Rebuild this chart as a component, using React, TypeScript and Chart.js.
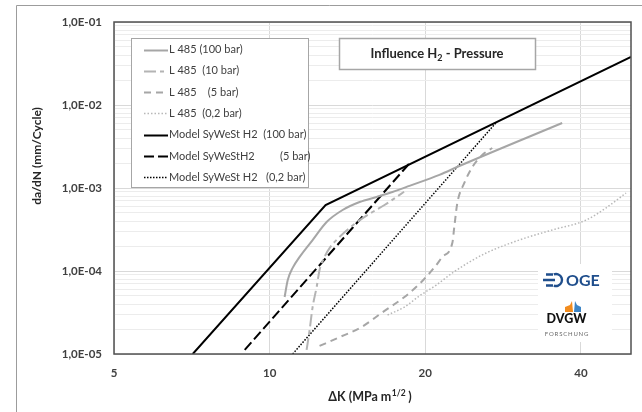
import React, { useEffect, useRef } from 'react';
import { Chart, registerables } from 'chart.js';

Chart.register(...registerables);

// ---- axis ticks ----
const xTicks = [5, 10, 20, 40];
const yMajorTicks = [1e-5, 1e-4, 1e-3, 1e-2, 1e-1];
const xRange = [5, 50];
const yRange = [1e-5, 1e-1];

// ---- data: L 485 measurements ----
const l485_100_dK = [10.69, 10.84, 11.08, 11.43, 12.11, 12.89, 13.84, 14.93, 16.1, 17.28, 18.64, 21.3, 23.28, 36.8];
const l485_100_rate = [4.86e-5, 7.8e-5, 1.09e-4, 1.48e-4, 2.36e-4, 3.89e-4, 5.43e-4, 6.78e-4, 7.8e-4, 8.95e-4, 1.06e-3, 1.44e-3, 1.84e-3, 6.07e-3];

const l485_10_dK = [11.79, 11.95, 12.11, 12.33, 12.49, 12.77, 13.06, 13.65, 14.59, 15.81, 16.68, 18.2];
const l485_10_rate = [1.12e-5, 1.95e-5, 3.68e-5, 6.41e-5, 1.03e-4, 1.48e-4, 1.89e-4, 2.57e-4, 3.68e-4, 5.14e-4, 6.24e-4, 9.0e-4];

const l485_5_dK = [12.49, 13.54, 15.05, 16.46, 18.23, 19.66, 21.01, 21.58, 22.56, 22.76, 23.07, 23.8, 24.67, 25.78, 26.95];
const l485_5_rate = [1.25e-5, 1.56e-5, 2.11e-5, 3.12e-5, 4.86e-5, 7.37e-5, 1.18e-4, 1.48e-4, 2.17e-4, 3.39e-4, 6.59e-4, 1.15e-3, 1.79e-3, 2.5e-3, 3.03e-3];

const l485_02_dK = [16.91, 18.23, 19.48, 21.01, 22.56, 24.34, 26.24, 30.39, 35.2, 40.94, 44.7, 48.9];
const l485_02_rate = [2.95e-5, 3.68e-5, 5.0e-5, 6.78e-5, 9.46e-5, 1.28e-4, 1.65e-4, 2.36e-4, 3.12e-4, 4.11e-4, 5.74e-4, 8.7e-4];

// ---- data: Model SyWeSt H2 ----
const model_100_dK = [7.1, 12.83, 50];
const model_100_rate = [1e-5, 6.24e-4, 3.79e-2];

const model_5_dK = [8.95, 18.6];
const model_5_rate = [1.12e-5, 1.95e-3];

const model_02_dK = [11.08, 27.4];
const model_02_rate = [1e-5, 6.1e-3];

// ---- labels ----
const seriesLabels = [
  'L 485 (100 bar)',
  'L 485  (10 bar)',
  'L 485    (5 bar)',
  'L 485  (0,2 bar)',
  'Model SyWeSt H2  (100 bar)',
  'Model SyWeStH2         (5 bar)',
  'Model SyWeSt H2   (0,2 bar)',
];
const chartTitleMain = 'Influence H';
const chartTitleSub = '2';
const chartTitleEnd = ' - Pressure';
const yTitle = 'da/dN (mm/Cycle)';
const xTitleMain = '\u0394K (MPa m';
const xTitleSup = '1/2';
const xTitleEnd = ' )';

const FONT = "Lato, 'Open Sans', sans-serif";

const styles = [
  { color: '#a6a6a6', width: 2, dash: [] as number[], smooth: true },
  { color: '#b4b4b4', width: 2, dash: [12, 4, 4, 4], smooth: true },
  { color: '#a6a6a6', width: 2, dash: [7, 5], smooth: true },
  { color: '#b8b8b8', width: 1.5, dash: [1.5, 2], smooth: true },
  { color: '#000000', width: 2, dash: [] as number[], smooth: false },
  { color: '#000000', width: 2, dash: [10, 4], smooth: false },
  { color: '#000000', width: 1.5, dash: [1.5, 1.5], smooth: false },
];

const seriesData = [
  [l485_100_dK, l485_100_rate],
  [l485_10_dK, l485_10_rate],
  [l485_5_dK, l485_5_rate],
  [l485_02_dK, l485_02_rate],
  [model_100_dK, model_100_rate],
  [model_5_dK, model_5_rate],
  [model_02_dK, model_02_rate],
];

function pts(xs: number[], ys: number[]) {
  return xs.map((x, i) => ({ x, y: ys[i] }));
}

function formatE(v: number) {
  const e = Math.round(Math.log10(v));
  const m = v / Math.pow(10, e);
  if (Math.abs(m - 1) > 1e-6) return '';
  const sign = e < 0 ? '-' : '+';
  return '1,0E' + sign + String(Math.abs(e)).padStart(2, '0');
}

const decor = {
  id: 'decor',
  beforeDraw(chart: any) {
    const ctx = chart.ctx;
    ctx.save();
    ctx.fillStyle = '#ffffff';
    ctx.fillRect(0, 0, chart.width, chart.height);
    // outer frame
    ctx.strokeStyle = '#9c9c9c';
    ctx.lineWidth = 1;
    ctx.beginPath();
    ctx.moveTo(16.5, chart.height);
    ctx.lineTo(16.5, 5.5);
    ctx.lineTo(chart.width, 5.5);
    ctx.stroke();
    ctx.restore();
  },
  beforeDatasetsDraw(chart: any) {
    const ctx = chart.ctx;
    ctx.save();
    // logo area
    ctx.fillStyle = '#ffffff';
    ctx.fillRect(538, 264, 74, 78);
    // OGE symbol
    ctx.strokeStyle = '#1f4e8c';
    ctx.lineWidth = 2.4;
    ctx.beginPath();
    ctx.arc(556, 280, 6, -Math.PI * 0.62, Math.PI * 0.62);
    ctx.stroke();
    ctx.beginPath();
    ctx.moveTo(543, 280);
    ctx.lineTo(555, 280);
    ctx.moveTo(546, 274.5);
    ctx.lineTo(553, 274.5);
    ctx.moveTo(546, 285.5);
    ctx.lineTo(553, 285.5);
    ctx.stroke();
    ctx.fillStyle = '#1f4e8c';
    ctx.font = `bold 16px ${FONT}`;
    ctx.textAlign = 'left';
    ctx.textBaseline = 'middle';
    ctx.fillText('OGE', 566, 281);
    // DVGW mark
    ctx.fillStyle = '#f28c1e';
    ctx.beginPath();
    ctx.moveTo(565, 312);
    ctx.lineTo(565, 307);
    ctx.lineTo(570, 305);
    ctx.lineTo(572, 301);
    ctx.lineTo(573, 312);
    ctx.closePath();
    ctx.fill();
    ctx.fillStyle = '#3d85c6';
    ctx.beginPath();
    ctx.moveTo(574, 312);
    ctx.lineTo(575, 301);
    ctx.lineTo(577, 305);
    ctx.lineTo(581, 307);
    ctx.lineTo(581, 312);
    ctx.closePath();
    ctx.fill();
    ctx.fillStyle = '#111111';
    ctx.font = `900 12.5px ${FONT}`;
    ctx.textAlign = 'center';
    ctx.fillText('DVGW', 566.5, 318.5);
    ctx.fillStyle = '#6a6a6a';
    ctx.font = `6px ${FONT}`;
    (ctx as any).letterSpacing = '0.8px';
    ctx.fillText('FORSCHUNG', 567, 334.5);
    (ctx as any).letterSpacing = '0px';
    ctx.restore();
  },
  afterDatasetsDraw(chart: any) {
    const ctx = chart.ctx;
    const a = chart.chartArea;
    ctx.save();
    // plot border
    ctx.strokeStyle = '#505050';
    ctx.lineWidth = 1.5;
    ctx.setLineDash([]);
    ctx.strokeRect(a.left, a.top, a.right - a.left, a.bottom - a.top);

    // legend box
    ctx.fillStyle = '#ffffff';
    ctx.fillRect(131, 38, 177, 149);
    ctx.strokeStyle = '#a6a6a6';
    ctx.lineWidth = 1;
    ctx.strokeRect(131.5, 38.5, 177, 149);
    ctx.font = `11px ${FONT}`;
    ctx.textAlign = 'left';
    ctx.textBaseline = 'middle';
    seriesLabels.forEach((lab, i) => {
      const y = 49.5 + i * 21.3;
      const s = styles[i];
      ctx.strokeStyle = s.color;
      ctx.lineWidth = s.width;
      ctx.setLineDash(s.dash);
      ctx.beginPath();
      ctx.moveTo(144, Math.round(y) + 0.5);
      ctx.lineTo(168, Math.round(y) + 0.5);
      ctx.stroke();
      ctx.setLineDash([]);
      ctx.fillStyle = '#404040';
      ctx.fillText(lab, 169, y);
    });

    // title box
    ctx.fillStyle = '#ffffff';
    ctx.fillRect(339, 38, 196, 31);
    ctx.strokeStyle = '#a6a6a6';
    ctx.strokeRect(339.5, 38.5, 196, 31);
    ctx.fillStyle = '#262626';
    ctx.font = `bold 13px ${FONT}`;
    const w1 = ctx.measureText(chartTitleMain).width;
    const w3 = ctx.measureText(chartTitleEnd).width;
    ctx.font = `bold 9px ${FONT}`;
    const w2 = ctx.measureText(chartTitleSub).width;
    let tx = 437 - (w1 + w2 + w3) / 2;
    ctx.textAlign = 'left';
    ctx.font = `bold 13px ${FONT}`;
    ctx.fillText(chartTitleMain, tx, 54);
    tx += w1;
    ctx.font = `bold 9px ${FONT}`;
    ctx.fillText(chartTitleSub, tx, 58);
    tx += w2;
    ctx.font = `bold 13px ${FONT}`;
    ctx.fillText(chartTitleEnd, tx, 54);

    // axis titles
    ctx.fillStyle = '#262626';
    ctx.font = `bold 12px ${FONT}`;
    ctx.save();
    ctx.translate(37, 156);
    ctx.rotate(-Math.PI / 2);
    ctx.textAlign = 'center';
    ctx.fillText(yTitle, 0, 0);
    ctx.restore();

    ctx.font = `bold 12.5px ${FONT}`;
    const xa = ctx.measureText(xTitleMain).width;
    const xc = ctx.measureText(xTitleEnd).width;
    ctx.font = `bold 8.5px ${FONT}`;
    const xb = ctx.measureText(xTitleSup).width;
    let xx = 370 - (xa + xb + xc) / 2;
    ctx.textAlign = 'left';
    ctx.font = `bold 12.5px ${FONT}`;
    ctx.fillText(xTitleMain, xx, 397);
    xx += xa;
    ctx.font = `bold 8.5px ${FONT}`;
    ctx.fillText(xTitleSup, xx + 0.5, 393);
    xx += xb;
    ctx.font = `bold 12.5px ${FONT}`;
    ctx.fillText(xTitleEnd, xx, 397);
    ctx.restore();
  },
};

export default function App() {
  const ref = useRef<HTMLCanvasElement | null>(null);
  useEffect(() => {
    if (!ref.current) return;
    const datasets = seriesData.map(([xs, ys], i) => ({
      label: seriesLabels[i],
      data: pts(xs, ys),
      showLine: true,
      borderColor: styles[i].color,
      backgroundColor: styles[i].color,
      borderWidth: styles[i].width,
      borderDash: styles[i].dash,
      pointRadius: 0,
      pointHoverRadius: 0,
      fill: false,
      cubicInterpolationMode: styles[i].smooth ? 'monotone' : 'default',
      tension: 0,
    }));
    const yTickVals: number[] = [];
    for (let k = 0; k < yMajorTicks.length - 1; k++) {
      for (let m = 1; m <= 9; m++) yTickVals.push(m * yMajorTicks[k]);
    }
    yTickVals.push(yMajorTicks[yMajorTicks.length - 1]);

    const chart = new Chart(ref.current, {
      type: 'scatter',
      data: { datasets: datasets as any },
      plugins: [decor],
      options: {
        responsive: false,
        animation: false,
        events: [],
        layout: { padding: { left: 0, top: 22, right: 11, bottom: 0 } },
        plugins: { legend: { display: false }, tooltip: { enabled: false }, title: { display: false } },
        scales: {
          x: {
            type: 'logarithmic',
            min: xRange[0],
            max: xRange[1],
            afterBuildTicks: (s: any) => {
              s.ticks = xTicks.map((v) => ({ value: v }));
            },
            afterFit: (s: any) => {
              s.height = 58;
            },
            grid: { color: '#d9d9d9', lineWidth: 1, drawTicks: false },
            border: { display: false },
            ticks: {
              autoSkip: false,
              maxRotation: 0,
              padding: 12,
              color: '#404040',
              font: { family: FONT, size: 11.5, weight: 'bold' },
              callback: (v: any) => String(v),
            },
          },
          y: {
            type: 'logarithmic',
            min: yRange[0],
            max: yRange[1],
            afterBuildTicks: (s: any) => {
              s.ticks = yTickVals.map((v) => ({ value: v }));
            },
            afterFit: (s: any) => {
              s.width = 114;
            },
            grid: {
              drawTicks: false,
              lineWidth: 1,
              color: (c: any) => {
                const v = c.tick ? c.tick.value : 0;
                return formatE(v) ? '#d9d9d9' : '#ececec';
              },
            },
            border: { display: false },
            ticks: {
              autoSkip: false,
              padding: 12,
              color: '#404040',
              font: { family: FONT, size: 11.5, weight: 'bold' },
              callback: (v: any) => formatE(Number(v)),
            },
          },
        },
      } as any,
    });
    return () => chart.destroy();
  }, []);
  return (
    <div style={{ position: 'absolute', left: 0, top: 0, width: 642, height: 412, background: '#fff' }}>
      <canvas ref={ref} width={642} height={412} style={{ display: 'block' }} />
    </div>
  );
}
